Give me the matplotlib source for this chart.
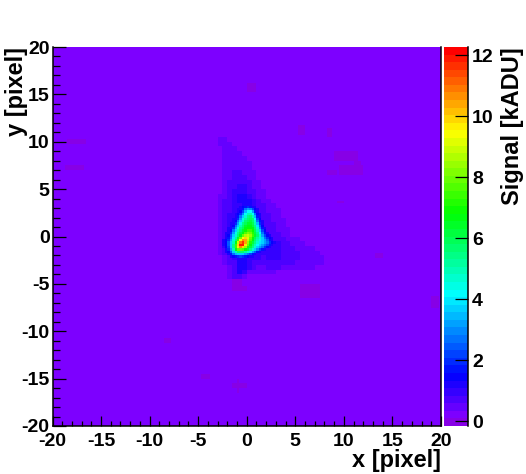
import numpy as np
import matplotlib
matplotlib.use('Agg')
import matplotlib.pyplot as plt
from matplotlib.colors import ListedColormap, BoundaryNorm, hsv_to_rgb

plt.rcParams['font.family'] = ['Liberation Sans', 'DejaVu Sans']
plt.rcParams['font.weight'] = 'bold'
plt.rcParams['axes.unicode_minus'] = False

x_ticks = [-20, -15, -10, -5, 0, 5, 10, 15, 20]
y_ticks = [-20, -15, -10, -5, 0, 5, 10, 15, 20]
cbar_ticks = [0, 2, 4, 6, 8, 10, 12]
x_title = 'x [pixel]'
y_title = 'y [pixel]'
cbar_title = 'Signal [kADU]'

background = 0.15

# diffuse halo, 0.5 pixel cells: (row centre y, left edge x, values)
halo_rows = [
    (10.75, -3.5, [.25, .3, .25]),
    (10.25, -3.5, [.3, .4, .4, .3]),
    (9.75, -3.5, [.25, .35, .4, .4, .3]),
    (9.25, -3.0, [.3, .4, .45, .4, .3, .2]),
    (8.75, -3.0, [.25, .4, .45, .45, .4, .3, .2]),
    (8.25, -2.5, [.4, .5, .5, .45, .4, .3]),
    (7.75, -2.5, [.4, .5, .55, .5, .45, .35, .25]),
    (7.25, -2.5, [.4, .5, .55, .55, .5, .4, .3, .2]),
    (6.75, -2.5, [.4, .5, .6, .6, .55, .5, .4, .3]),
    (6.25, -2.5, [.45, .55, .65, .7, .6, .5, .45, .3, .2]),
    (5.75, -2.5, [.5, .6, .7, .8, .7, .6, .5, .4, .3]),
    (5.25, -2.5, [.5, .6, .75, .9, .85, .65, .55, .45, .3, .2]),
    (4.75, -3.0, [.3, .5, .65, .85, 1.0, 1.0, .8, .6, .5, .4, .3]),
    (4.25, -3.0, [.35, .55, .7, .9, 1.1, 1.15, 1.0, .8, .55, .45, .3, .2]),
    (3.75, -3.0, [.4, .6, .75, .9, 1.1, 1.25, 1.3, 1.0, .7, .5, .4, .3, .2]),
    (3.25, -3.5, [.2, .4, .6, .75, .9, 1.0, 1.3, 1.25, .95, .75, .6, .5, .4, .3, .2]),
    (2.75, -3.5, [.25, .45, .65, .8, 1, 1.1, 1.2, 1.1, 1, .8, .65, .55, .45, .35, .25, .2]),
    (2.25, -3.5, [.25, .45, .65, .85, 1, 1.1, 1.1, 1.1, 1, .85, .7, .6, .5, .4, .3, .2]),
    (1.75, -3.5, [.25, .45, .7, .85, 1, 1.1, 1.1, 1.1, 1.05, .9, .75, .65, .55, .45, .35, .25, .2]),
    (1.25, -3.5, [.3, .5, .7, .9, 1, 1.1, 1, 1, 1.05, .95, .8, .7, .6, .5, .4, .3, .2]),
    (0.75, -3.5, [.3, .5, .75, .9, 1, 1, 1, 1, 1.05, 1, .85, .75, .65, .55, .45, .35, .25, .2]),
    (0.25, -3.5, [.3, .55, .75, .95, 1, 1, 1, 1, 1, 1.05, .9, .8, .7, .6, .5, .4, .3, .25, .2]),
    (-0.25, -3.5, [.3, .55, .8, 1, 1, 1, 1, 1, 1, 1.1, 1, .9, .8, .7, .6, .5, .45, .35, .3, .2]),
    (-0.75, -3.5, [.3, .55, .8, 1, 1, 1, 1, 1, 1, 1.1, 1.1, 1, .95, .85, .75, .65, .55, .45, .4, .3, .25]),
    (-1.25, -3.5, [.25, .5, .75, .95, 1, 1, 1, 1, 1, 1.1, 1.1, 1, .95, .9, .8, .7, .6, .55, .5, .45, .35, .25, .2]),
    (-1.75, -3.5, [.2, .4, .65, .9, 1, 1, 1, 1, 1, 1, 1, .95, .95, .9, .8, .75, .65, .6, .55, .5, .45, .35, .3, .25]),
    (-2.25, -3.5, [.15, .3, .55, .8, 1.0, 1.1, 1.1, 1, .9, .85, .8, .85, .9, .85, .75, .7, .65, .6, .55, .5, .45, .4, .35, .25]),
    (-2.75, -3.5, [.1, .2, .4, .6, .8, 1.1, 1.2, 1, .75, .7, .7, .75, .8, .75, .7, .65, .6, .55, .55, .5, .45, .4, .35, .25]),
    (-3.25, -3.0, [.15, .3, .45, .7, 1.1, 1.3, 1.0, .65, .55, .55, .6, .65, .6, .55, .5, .5, .45, .45, .4, .35, .3, .2]),
    (-3.75, -2.5, [.2, .4, .8, 1.1, .9, .55, .4, .35, .35, .35, .35, .3, .3, .25, .25, .2, .2]),
    (-4.25, -2.0, [.35, .7, .7, .4, .25, .2]),
]

# bright core, 0.25 pixel cells: (row centre y, left edge x, values)
core_rows = [
    (3.125, -0.75, [1.1, 1.4, 1.8, 2.0, 1.7, 1.3, 1.1]),
    (2.875, -1.0, [1.1, 1.3, 1.7, 2.6, 3.2, 3.0, 2.2, 1.4, 1.1]),
    (2.625, -1.0, [1.2, 1.5, 2.2, 3.4, 4.2, 4.2, 3.2, 1.8, 1.2]),
    (2.375, -1.25, [1.1, 1.4, 1.9, 3.0, 4.2, 5, 5, 4.2, 2.6, 1.5, 1.1]),
    (2.125, -1.25, [1.2, 1.6, 2.6, 3.8, 4.8, 5.4, 5.6, 5, 3.4, 1.8, 1.2]),
    (1.875, -1.5, [1.1, 1.3, 2, 3.2, 4.4, 5.2, 5.8, 6, 5.6, 4.2, 2.2, 1.4]),
    (1.625, -1.5, [1.1, 1.5, 2.6, 3.8, 4.8, 5.6, 6, 6.2, 5.8, 4.8, 2.8, 1.6, 1.1]),
    (1.375, -1.75, [1.1, 1.3, 2, 3.2, 4.4, 5.4, 6, 6.4, 6.4, 6, 5, 3.4, 1.9, 1.2]),
    (1.125, -1.75, [1.1, 1.5, 2.6, 3.8, 5, 5.8, 6.4, 6.6, 6.6, 6.2, 5.4, 4, 2.4, 1.4]),
    (0.875, -2.0, [1.1, 1.3, 2, 3.2, 4.4, 5.4, 6, 6.6, 7, 7, 6.6, 5.8, 4.6, 3, 1.7, 1.2]),
    (0.625, -2.0, [1.1, 1.5, 2.6, 3.8, 5, 5.8, 6.4, 7, 7.4, 7.4, 7, 6, 5, 3.6, 2.1, 1.4]),
    (0.375, -2.25, [1.1, 1.3, 2, 3.2, 4.4, 5.4, 6.2, 6.8, 7.6, 8.2, 8, 7.2, 6.2, 5.4, 4.2, 2.6, 1.7, 1.2]),
    (0.125, -2.25, [1.1, 1.4, 2.4, 3.6, 4.8, 5.8, 6.8, 7.8, 8.6, 9, 8.4, 7.4, 6.4, 5.6, 4.6, 3.2, 2.2, 1.5, 1.1]),
    (-0.125, -2.25, [1.2, 1.6, 2.8, 4, 5.2, 6.4, 8, 9.4, 9.8, 9.2, 8, 7, 6, 5.2, 4.6, 3.8, 2.8, 1.9, 1.4, 1.1]),
    (-0.375, -2.5, [1.1, 1.4, 2, 3.2, 4.6, 5.8, 7.4, 9.4, 10.6, 10.4, 9, 7.6, 6.6, 5.8, 5, 4.4, 3.8, 3.2, 2.4, 1.7, 1.2]),
    (-0.625, -2.5, [1.1, 1.5, 2.4, 3.6, 5, 6.6, 8.8, 11, 11.6, 10.4, 8.4, 7.2, 6.2, 5.4, 4.6, 4, 3.6, 3.2, 2.6, 2, 1.4, 1.1]),
    (-0.875, -2.5, [1.1, 1.5, 2.4, 3.8, 5.4, 7.4, 10, 12, 11.8, 9.6, 7.8, 6.6, 5.8, 5, 4.2, 3.6, 3.2, 2.8, 2.2, 1.6, 1.2]),
    (-1.125, -2.5, [1, 1.4, 2.2, 3.6, 5.4, 7.4, 9.6, 10.6, 9.8, 8.4, 7.2, 6.2, 5.4, 4.6, 3.8, 3.2, 2.6, 2, 1.5, 1.1]),
    (-1.375, -2.25, [1.2, 1.9, 3.2, 5, 6.6, 7.8, 8, 7.6, 7, 6.2, 5.4, 4.6, 3.8, 3, 2.2, 1.6, 1.2]),
    (-1.625, -2.25, [1.1, 1.5, 2.4, 3.8, 5, 5.8, 5.8, 5.6, 5.2, 4.6, 4, 3.2, 2.4, 1.8, 1.3]),
    (-1.875, -2.0, [1.2, 1.7, 2.6, 3.4, 3.8, 3.8, 3.6, 3.2, 2.8, 2.2, 1.6, 1.2]),
    (-2.125, -1.75, [1.1, 1.4, 1.8, 2, 2.1, 2, 1.8, 1.5, 1.3, 1.1]),
]

# faint dips in the background: centre x, centre y, width, height
dip_x = [0.7, -17.5, -17.6, 10.3, 10.8, 11.5, 8.8, 8.6, 9.7, 5.8, -1.0, -0.4, 6.7, -4.1, -0.7, -0.7, 19.5, 13.7, -8.0]
dip_y = [15.9, 10.2, 7.3, 8.7, 7.1, 7.5, 6.9, 11.0, 3.7, 11.3, -4.9, -5.4, -5.6, -14.7, -15.7, -15.7, -6.8, -2.0, -11.0]
dip_w = [1.0, 2.0, 2.0, 2.4, 2.5, 0.6, 1.0, 0.5, 0.8, 0.7, 1.0, 0.8, 2.0, 1.0, 1.4, 0.3, 0.7, 0.8, 0.6]
dip_h = [1.0, 0.5, 0.5, 1.0, 0.8, 1.0, 0.6, 1.0, 0.4, 1.0, 1.4, 0.6, 1.6, 0.5, 0.4, 1.4, 1.4, 0.5, 0.5]
dip_value = -0.05

edges = np.arange(-20, 20.25, 0.25)
signal = np.full((160, 160), background)

for x0, y0, w, h in zip(dip_x, dip_y, dip_w, dip_h):
    cols = np.arange(int((x0 - w / 2 + 20) * 4), int((x0 + w / 2 + 20) * 4))
    rows = np.arange(int((y0 - h / 2 + 20) * 4), int((y0 + h / 2 + 20) * 4))
    signal[np.ix_(rows, cols)] = dip_value

for y0, x_left, values in halo_rows:
    row = int((y0 - 0.25 + 20) * 4)
    for k, v in enumerate(values):
        col = int((x_left + 0.5 * k + 20) * 4)
        signal[row:row + 2, col:col + 2] = v

for y0, x_left, values in core_rows:
    row = int((y0 - 0.125 + 20) * 4)
    for k, v in enumerate(values):
        col = int((x_left + 0.25 * k + 20) * 4)
        signal[row, col] = v

# ROOT style rainbow palette, 50 contours
hues = np.linspace(275, 0, 50) / 360
palette = hsv_to_rgb(np.column_stack([hues, np.ones(50), np.ones(50)]))
palette[0] = [0.53, 0, 0.9]
cmap = ListedColormap(palette)
levels = np.linspace(-0.15, 12.27, 51)
norm = BoundaryNorm(levels, 50)

W, H = 526, 474
fig = plt.figure(figsize=(W / 100, H / 100), dpi=100)
ax = fig.add_axes([52.5 / W, 1 - 426 / H, 388.5 / W, 379 / H])
cax = fig.add_axes([444 / W, 1 - 426 / H, 24 / W, 379 / H])

mesh = ax.pcolormesh(edges, edges, signal, cmap=cmap, norm=norm, rasterized=True)
ax.set_xlim(-20, 20)
ax.set_ylim(-20, 20)
ax.set_xticks(x_ticks)
ax.set_yticks(y_ticks)
ax.set_xticks(np.arange(-20, 21), minor=True)
ax.set_yticks(np.arange(-20, 21), minor=True)
ax.tick_params(axis='x', which='major', direction='in', length=7.2, width=0.9, labelsize=14, pad=5)
ax.tick_params(axis='x', which='minor', direction='in', length=3.6, width=0.9)
ax.tick_params(axis='y', which='major', direction='in', length=9.4, width=0.9, labelsize=14, pad=2)
ax.tick_params(axis='y', which='minor', direction='in', length=4.7, width=0.9)
ax.spines['top'].set_visible(False)
for side in ['left', 'bottom', 'right']:
    ax.spines[side].set_linewidth(1.1)

ax.set_xlabel(x_title, fontsize=17, fontweight='bold', loc='right', labelpad=-1)
ax.set_ylabel(y_title, fontsize=17, fontweight='bold', loc='top', labelpad=-5)

cbar = fig.colorbar(mesh, cax=cax, ticks=cbar_ticks, spacing='proportional', drawedges=False)
cbar.outline.set_visible(False)
cax.spines['right'].set_visible(True)
cax.spines['right'].set_linewidth(1.1)
cax.minorticks_off()
cax.tick_params(axis='y', direction='in', length=9.4, width=0.9, labelsize=14, pad=3)
cbar.set_label(cbar_title, fontsize=17, fontweight='bold', loc='top', labelpad=5)

fig.savefig('out.png', dpi=100)
